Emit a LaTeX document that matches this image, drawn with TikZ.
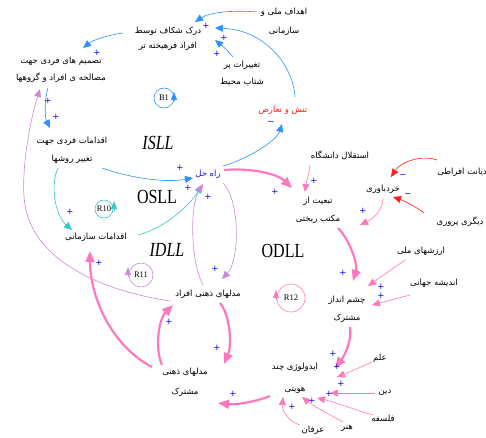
\documentclass[tikz,border=0pt]{standalone}
\usepackage{fontspec}
\usepackage{graphicx}
\usetikzlibrary{arrows.meta}
\TeXXeTstate=1
\newfontfamily\persian[Script=Arabic]{DejaVu Sans}
\newfontfamily\tnr{Liberation Serif}
\newcommand{\fa}[1]{\beginR #1\endR}
\definecolor{cblue}{RGB}{45,145,255}
\definecolor{cteal}{RGB}{50,200,200}
\definecolor{cpurple}{RGB}{200,140,210}
\definecolor{cpink}{RGB}{255,120,190}
\definecolor{cred}{RGB}{255,30,30}
\definecolor{csign}{RGB}{0,0,255}
\definecolor{cname}{RGB}{20,20,210}
\tikzset{
  fa/.style={font=\persian\fontsize{8.5}{17}\selectfont, inner sep=0pt, align=center},
  sgn/.style={font=\persian\fontsize{8.5}{8.5}\selectfont, text=csign, inner sep=0pt},
  loopname/.style={font=\tnr\fontsize{16}{16}\selectfont, inner sep=0pt},
  loopmark/.style={circle, draw, line width=0.6pt, inner sep=0pt, font=\tnr\fontsize{8.5}{8.5}\selectfont},
  lnk/.style={line width=0.6pt, -{Triangle[length=8pt,width=7pt]}},
  fat/.style={line width=2.2pt, color=cpink, -{Triangle[length=11pt,width=9pt]}},
  looptip/.style={line width=0.6pt, -{Triangle[length=8pt,width=6pt]}}
}
\begin{document}
\begin{tikzpicture}[x=1pt,y=-1pt]
\useasboundingbox (0,0) rectangle (486,437);
% ---------------- variables
\node[fa] (hadaf) at (284,22) {\fa{اهداف ملی و}\\[2pt]\fa{سازمانی}};
\node[fa] (dark) at (168,39) {\fa{درک شکاف توسط}\\[-2pt]\fa{افراد فرهیخته تر}};
\node[fa] (tasmim) at (61,70) {\fa{تصمیم های فردی جهت}\\\fa{مصالحه ی افراد و گروهها}};
\node[fa] (taghyir) at (242,73) {\fa{تغییرات پر}\\\fa{شتاب محیط}};
\node[fa, text=cred] (tanesh) at (283,110) {\fa{تنش و تعارض}};
\node[fa, text=cname] (rahhal) at (208,174) {\fa{راه حل}};
\node[fa] (eqfardi) at (72,150) {\fa{اقدامات فردی جهت}\\[1pt]\fa{تغییر روشها}};
\node[fa] (eqsaz) at (96,237) {\fa{اقدامات سازمانی}};
\node[fa] (mafrad) at (208,294) {\fa{مدلهای ذهنی افراد}};
\node[fa] (mmosh) at (185,382) {\fa{مدلهای ذهنی}\\[3pt]\fa{مشترک}};
\node[fa] (ideo) at (295,378) {\fa{ایدولوژی چند}\\[5pt]\fa{هویتی}};
\node[fa] (cheshm) at (347,309) {\fa{چشم انداز}\\[1pt]\fa{مشترک}};
\node[fa] (tabiat) at (318,210) {\fa{تبعیت از}\\[1pt]\fa{مکتب ریختی}};
\node[fa] (esteq) at (340,155) {\fa{استقلال دانشگاه}};
\node[fa] (kherad) at (383,189) {\fa{خردباوری}};
\node[fa] (diyanat) at (462,172) {\fa{دیانت افراطی}};
\node[fa] (digari) at (460,222) {\fa{دیگری پروری}};
\node[fa] (arzesh) at (421,251) {\fa{ارزشهای ملی}};
\node[fa] (andishe) at (434,283) {\fa{اندیشه جهانی}};
\node[fa] (elm) at (380,358) {\fa{علم}};
\node[fa] (din) at (385,393) {\fa{دین}};
\node[fa] (falsafe) at (383,418) {\fa{فلسفه}};
\node[fa] (honar) at (347,428) {\fa{هنر}};
\node[fa] (erfan) at (313,430) {\fa{عرفان}};
% ---------------- loop names
\node[loopname] (isll) at (158,143) {\scalebox{1}[1.25]{\itshape ISLL}};
\node[loopname] (osll) at (157,197) {\scalebox{1}[1.25]{OSLL}};
\node[loopname] (idll) at (167,250) {\scalebox{1}[1.25]{\itshape IDLL}};
\node[loopname] (odll) at (283,251) {\scalebox{1}[1.25]{ODLL}};
% ---------------- loop markers
\node[loopmark, draw=cblue, minimum size=20pt] (b1) at (164,98) {B1};
\node[loopmark, draw=cteal, minimum size=18pt] (r10) at (104,209) {R10};
\node[loopmark, draw=cpurple, minimum size=24pt] (r11) at (141,275) {R11};
\node[loopmark, draw=cpink, minimum size=28pt] (r12) at (291,298) {R12};
\draw[looptip, color=cblue] ([shift={(10,3)}]b1.center) -- ([shift={(10,-6)}]b1.center);
\draw[looptip, color=cteal] ([shift={(10,2)}]r10.center) -- ([shift={(10,-8)}]r10.center);
\draw[looptip, color=cpurple] ([shift={(-13,2)}]r11.center) -- ([shift={(-13,-8)}]r11.center);
\draw[looptip, color=cpink] ([shift={(-15,2)}]r12.center) -- ([shift={(-15,-8)}]r12.center);
% ---------------- blue links
\draw[lnk, color=cblue] ([shift={(-27,-10)}]hadaf.center) .. controls (235,10) and (210,12) .. ([shift={(27,-17)}]dark.center);
\draw[lnk, color=cblue] ([shift={(12,-13)}]tanesh.center) .. controls (293,65) and (265,30) .. ([shift={(47,-11)}]dark.center);
\draw[lnk, color=cblue] ([shift={(-9,-16)}]taghyir.center) .. controls (226,49) .. ([shift={(47,1)}]dark.center);
\draw[lnk, color=cblue] ([shift={(-45,-6)}]dark.center) .. controls (108,35) and (93,40) .. ([shift={(22,-22)}]tasmim.center);
\draw[lnk, color=cblue] ([shift={(-13,18)}]tasmim.center) .. controls (44,100) and (45,118) .. ([shift={(-22,-22)}]eqfardi.center);
\draw[lnk, color=cblue] ([shift={(30,18)}]eqfardi.center) .. controls (130,178) and (165,183) .. ([shift={(-15,4)}]rahhal.center);
\draw[lnk, color=cblue] ([shift={(15,-8)}]rahhal.center) .. controls (250,158) and (277,140) .. ([shift={(-1,14)}]tanesh.center);
% ---------------- teal links
\draw[lnk, color=cteal] ([shift={(-14,18)}]eqfardi.center) .. controls (50,185) and (55,215) .. ([shift={(-24,-7)}]eqsaz.center);
\draw[lnk, color=cteal] ([shift={(42,-2)}]eqsaz.center) .. controls (165,228) and (190,205) .. ([shift={(-6,11)}]rahhal.center);
% ---------------- purple links
\draw[lnk, color=cpurple] ([shift={(-5,-9)}]mafrad.center) .. controls (190,260) and (190,205) .. ([shift={(-5,10)}]rahhal.center);
\draw[lnk, color=cpurple] ([shift={(15,9)}]rahhal.center) .. controls (240,200) and (240,260) .. ([shift={(14,-15)}]mafrad.center);
\draw[lnk, color=cpurple] ([shift={(-38,7)}]mafrad.center) .. controls (110,292) and (35,265) .. (25,205) .. controls (20,175) and (30,120) .. ([shift={(-21,19)}]tasmim.center);
% ---------------- thick pink links
\draw[fat] ([shift={(16,-4)}]rahhal.center) .. controls (245,168) and (275,172) .. ([shift={(-26,-22)}]tabiat.center);
\draw[fat] ([shift={(20,18)}]tabiat.center) .. controls (350,240) and (358,265) .. ([shift={(6,-28)}]cheshm.center);
\draw[fat] ([shift={(3,18)}]cheshm.center) .. controls (352,340) and (345,355) .. ([shift={(40,-10)}]ideo.center);
\draw[fat] ([shift={(-25,18)}]ideo.center) .. controls (255,402) and (235,405) .. ([shift={(33,21)}]mmosh.center);
\draw[fat] ([shift={(-23,-17)}]mmosh.center) .. controls (155,350) and (158,320) .. ([shift={(-35,11)}]mafrad.center);
\draw[fat] ([shift={(12,9)}]mafrad.center) .. controls (230,315) and (232,345) .. ([shift={(39,-18)}]mmosh.center);
\draw[fat] ([shift={(-33,-15)}]mmosh.center) .. controls (110,345) and (90,295) .. ([shift={(-6,14)}]eqsaz.center);
% ---------------- thin pink links
\draw[lnk, color=cpink] ([shift={(-30,10)}]esteq.center) .. controls (309,175) and (306,183) .. ([shift={(-13,-18)}]tabiat.center);
\draw[lnk, color=cpink] ([shift={(0,9)}]kherad.center) .. controls (383,208) and (375,218) .. ([shift={(42,15)}]tabiat.center);
\draw[lnk, color=cpink] ([shift={(-16,9)}]arzesh.center) -- ([shift={(21,-23)}]cheshm.center);
\draw[lnk, color=cpink] ([shift={(-24,12)}]andishe.center) -- ([shift={(25,-4)}]cheshm.center);
\draw[lnk, color=cpink] ([shift={(-8,4)}]elm.center) .. controls (358,369) .. ([shift={(42,-1)}]ideo.center);
\draw[lnk, color=cpink] ([shift={(-10,0)}]din.center) -- ([shift={(35,15)}]ideo.center);
\draw[lnk, color=cpink] ([shift={(-10,-3)}]falsafe.center) .. controls (355,410) and (335,402) .. ([shift={(22,20)}]ideo.center);
\draw[lnk, color=cpink] ([shift={(-4,-6)}]honar.center) .. controls (330,415) and (312,405) .. ([shift={(7,19)}]ideo.center);
\draw[lnk, color=cpink] ([shift={(-13,-5)}]erfan.center) .. controls (285,420) and (282,408) .. ([shift={(-12,19)}]ideo.center);
% ---------------- red links
\draw[lnk, color=cred] ([shift={(-25,-12)}]diyanat.center) .. controls (420,154) and (400,163) .. ([shift={(8,-12)}]kherad.center);
\draw[lnk, color=cred] ([shift={(-36,-9)}]digari.center) .. controls (415,206) and (402,200) .. ([shift={(10,8)}]kherad.center);
% ---------------- polarity signs
\node[sgn] (s1) at (206,26) {+};
\node[sgn] (s2) at (224,38) {+};
\node[sgn] (s3) at (217,54) {+};
\node[sgn] (s4) at (97,53) {+};
\node[sgn] (s5) at (56,117) {+};
\node[sgn] (s6) at (48,101) {+};
\node[sgn] (s7) at (180,168) {+};
\node[sgn] (s8) at (70,212) {+};
\node[sgn] (s9) at (188,188) {+};
\node[sgn] (s10) at (208,197) {+};
\node[sgn] (s11) at (215,269) {+};
\node[sgn] (s12) at (275,192) {+};
\node[sgn] (s13) at (314,181) {+};
\node[sgn] (s14) at (363,211) {+};
\node[sgn] (s15) at (343,273) {+};
\node[sgn] (s16) at (381,287) {+};
\node[sgn] (s17) at (381,296) {+};
\node[sgn] (s18) at (333,354) {+};
\node[sgn] (s19) at (337,367) {+};
\node[sgn] (s20) at (341,384) {+};
\node[sgn] (s21) at (329,394) {+};
\node[sgn] (s22) at (312,401) {+};
\node[sgn] (s23) at (292,407) {+};
\node[sgn] (s24) at (233,394) {+};
\node[sgn] (s25) at (169,322) {+};
\node[sgn] (s26) at (217,348) {+};
\node[sgn] (s27) at (99,263) {+};
\node[sgn] (m1) at (271,123) {−};
\node[sgn] (m2) at (403,176) {−};
\node[sgn] (m3) at (408,195) {−};
\end{tikzpicture}
\end{document}
